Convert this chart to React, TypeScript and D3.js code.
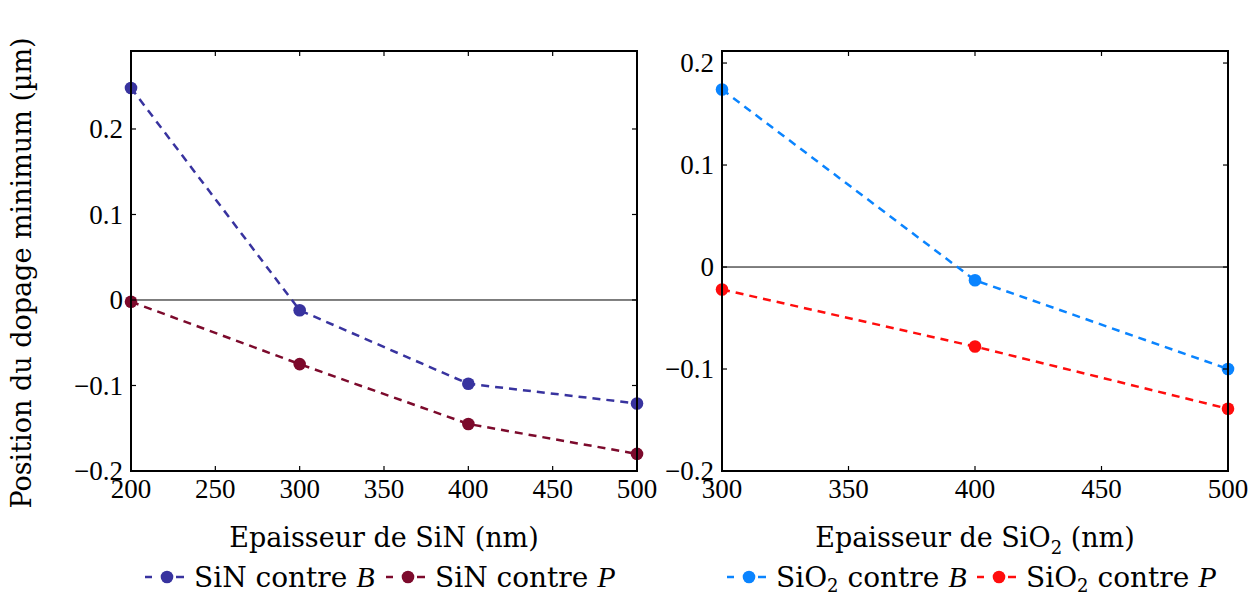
import React from "react";
import * as d3 from "d3";

// ---- data ----
const sinThickness = [200, 300, 400, 500];
const sinContreB = [0.248, -0.012, -0.098, -0.121];
const sinContreP = [-0.002, -0.075, -0.145, -0.18];

const sio2Thickness = [300, 400, 500];
const sio2ContreB = [0.174, -0.013, -0.1];
const sio2ContreP = [-0.022, -0.078, -0.139];

const sinXTicks = [200, 250, 300, 350, 400, 450, 500];
const sio2XTicks = [300, 350, 400, 450, 500];
const yTicks = [-0.2, -0.1, 0, 0.1, 0.2];

const COLORS = {
  sinB: "#38339f",
  sinP: "#7c0a2c",
  sio2B: "#0a84ff",
  sio2P: "#ff0d0d",
};

const TEXT_FONT = "'DejaVu Serif', serif";
const NUM_FONT = "'Liberation Serif', serif";

function fmtY(v: number) {
  if (Math.abs(v) < 1e-9) return "0";
  const s = Math.abs(v).toFixed(1);
  return v < 0 ? "\u2212" + s : s;
}

type Series = { values: number[]; color: string };

function Panel({
  x0, x1, y0, y1, xDomain, yDomain, xTicks, xs, series,
}: {
  x0: number; x1: number; y0: number; y1: number;
  xDomain: [number, number]; yDomain: [number, number];
  xTicks: number[]; xs: number[]; series: Series[];
}) {
  const x = d3.scaleLinear().domain(xDomain).range([x0, x1]);
  const y = d3.scaleLinear().domain(yDomain).range([y1, y0]);
  const line = d3
    .line<number>()
    .x((_, i) => x(xs[i]))
    .y((d) => y(d));
  const tl = 5;
  return (
    <g>
      {/* zero line */}
      <line x1={x0} x2={x1} y1={y(0)} y2={y(0)} stroke="#000" strokeWidth={1} />
      {/* series */}
      {series.map((s, si) => (
        <g key={si}>
          <path
            d={line(s.values) || ""}
            fill="none"
            stroke={s.color}
            strokeWidth={2.5}
            strokeDasharray="8,6"
          />
          {s.values.map((v, i) => (
            <circle key={i} cx={x(xs[i])} cy={y(v)} r={6.3} fill={s.color} />
          ))}
        </g>
      ))}
      {/* ticks */}
      {xTicks.map((t) => (
        <g key={"x" + t}>
          <line x1={x(t)} x2={x(t)} y1={y1} y2={y1 - tl} stroke="#000" strokeWidth={1.2} />
          <line x1={x(t)} x2={x(t)} y1={y0} y2={y0 + tl} stroke="#000" strokeWidth={1.2} />
          <text
            x={x(t)}
            y={y1 + 27}
            textAnchor="middle"
            fontFamily={NUM_FONT}
            fontSize={27}
            fill="#000"
          >
            {t}
          </text>
        </g>
      ))}
      {yTicks.map((t) => (
        <g key={"y" + t}>
          <line x1={x0} x2={x0 + tl} y1={y(t)} y2={y(t)} stroke="#000" strokeWidth={1.2} />
          <line x1={x1} x2={x1 - tl} y1={y(t)} y2={y(t)} stroke="#000" strokeWidth={1.2} />
          <text
            x={x0 - 8}
            y={y(t)}
            dy="0.34em"
            textAnchor="end"
            fontFamily={NUM_FONT}
            fontSize={27}
            fill="#000"
          >
            {fmtY(t)}
          </text>
        </g>
      ))}
      {/* frame */}
      <rect x={x0} y={y0} width={x1 - x0} height={y1 - y0} fill="none" stroke="#000" strokeWidth={2} />
    </g>
  );
}

function LegendItem({ x, y, color, children }: { x: number; y: number; color: string; children: React.ReactNode }) {
  return (
    <g>
      <line x1={x} x2={x + 7} y1={y} y2={y} stroke={color} strokeWidth={2.5} />
      <line x1={x + 31} x2={x + 39} y1={y} y2={y} stroke={color} strokeWidth={2.5} />
      <circle cx={x + 22} cy={y} r={6.3} fill={color} />
      <text x={x + 49} y={y} dy="0.34em" fontFamily={TEXT_FONT} fontSize={28} fill="#000">
        {children}
      </text>
    </g>
  );
}

export default function App() {
  const L = { x0: 131, x1: 637 };
  const R = { x0: 722, x1: 1228 };
  const y0 = 51, y1 = 471;
  return (
    <svg
      width={1256}
      height={595}
      style={{ position: "absolute", left: 0, top: 0, background: "#fff" }}
    >
      <Panel
        x0={L.x0} x1={L.x1} y0={y0} y1={y1}
        xDomain={[200, 500]} yDomain={[-0.2, 0.2912]}
        xTicks={sinXTicks} xs={sinThickness}
        series={[
          { values: sinContreB, color: COLORS.sinB },
          { values: sinContreP, color: COLORS.sinP },
        ]}
      />
      <Panel
        x0={R.x0} x1={R.x1} y0={y0} y1={y1}
        xDomain={[300, 500]} yDomain={[-0.2, 0.2118]}
        xTicks={sio2XTicks} xs={sio2Thickness}
        series={[
          { values: sio2ContreB, color: COLORS.sio2B },
          { values: sio2ContreP, color: COLORS.sio2P },
        ]}
      />
      {/* y axis title */}
      <text
        transform={`translate(31,273) rotate(-90)`}
        textAnchor="middle"
        fontFamily={TEXT_FONT}
        fontSize={27}
        fill="#000"
      >
        Position du dopage minimum (µm)
      </text>
      {/* x axis titles */}
      <text x={(L.x0 + L.x1) / 2} y={547} textAnchor="middle" fontFamily={TEXT_FONT} fontSize={27} fill="#000">
        Epaisseur de SiN (nm)
      </text>
      <text x={(R.x0 + R.x1) / 2} y={547} textAnchor="middle" fontFamily={TEXT_FONT} fontSize={27} fill="#000">
        Epaisseur de SiO<tspan fontSize={18} dy={7}>2</tspan><tspan dy={-7}> (nm)</tspan>
      </text>
      {/* legends */}
      <LegendItem x={145} y={577} color={COLORS.sinB}>
        SiN contre <tspan fontStyle="italic" fontFamily={NUM_FONT} fontSize={30}>B</tspan>
      </LegendItem>
      <LegendItem x={386} y={577} color={COLORS.sinP}>
        SiN contre <tspan fontStyle="italic" fontFamily={NUM_FONT} fontSize={30}>P</tspan>
      </LegendItem>
      <LegendItem x={727} y={577} color={COLORS.sio2B}>
        SiO<tspan fontSize={18} dy={5}>2</tspan><tspan dy={-5}> contre </tspan>
        <tspan fontStyle="italic" fontFamily={NUM_FONT} fontSize={30}>B</tspan>
      </LegendItem>
      <LegendItem x={977} y={577} color={COLORS.sio2P}>
        SiO<tspan fontSize={18} dy={5}>2</tspan><tspan dy={-5}> contre </tspan>
        <tspan fontStyle="italic" fontFamily={NUM_FONT} fontSize={30}>P</tspan>
      </LegendItem>
    </svg>
  );
}
